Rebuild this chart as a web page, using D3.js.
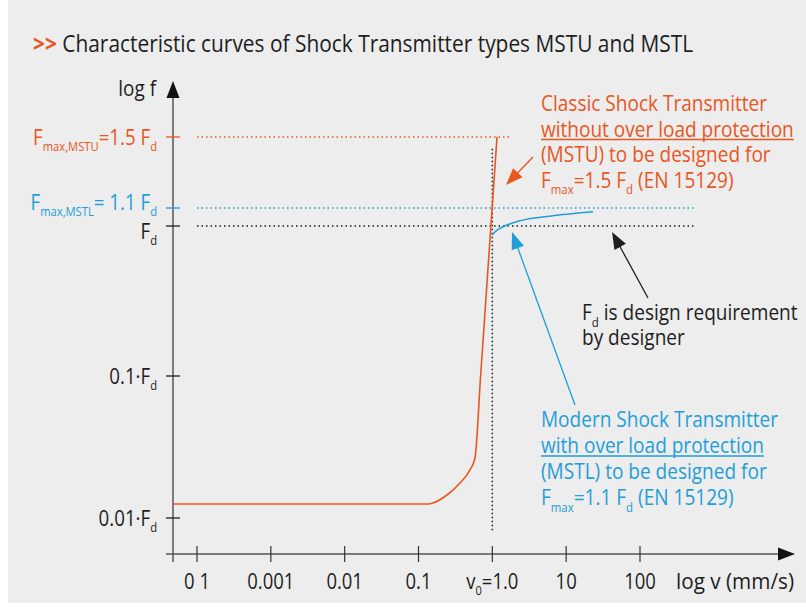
<!DOCTYPE html>
<html>
<head>
<meta charset="utf-8">
<script src="https://cdn.jsdelivr.net/npm/d3@7"></script>
<style>
  body { margin: 0; background: #fff; }
  svg { display: block; font-family: "Open Sans", sans-serif; }
</style>
</head>
<body>
<div id="chart"></div>
<script>
// ---- data ----
// x axis: log v (mm/s)
const xTicks = [1e-4, 1e-3, 1e-2, 1e-1, 1, 10, 100];
const xTickLabels = ['0 1', '0.001', '0.01', '0.1', 'v_{0}=1.0', '10', '100'];

// y axis: log f, in multiples of Fd (schematic, not to scale)
const yTicks = [0.01, 0.1, 1, 1.1, 1.5];
const yTickLabels = ['0.01·F_{d}', '0.1·F_{d}', 'F_{d}', 'F_{max,MSTL}= 1.1 F_{d}', 'F_{max,MSTU}=1.5 F_{d}'];
const yTickSeries = ['base', 'base', 'base', 'mstl', 'mstu'];

// MSTU - classic shock transmitter (no over load protection)
const mstuV = [4.73e-5, 0.1345, 0.157, 0.243, 0.365, 0.498, 0.582, 0.6915, 0.821, 0.9744, 1.157];
const mstuF = [0.01255, 0.01255, 0.01276, 0.01452, 0.01764, 0.0218, 0.02645, 0.0972, 0.3338, 1.0474, 1.5];

// MSTL - modern shock transmitter (with over load protection)
const mstlV = [0.99, 1.157, 1.395, 2.371, 6.63, 23.1];
const mstlF = [0.871, 0.9404, 0.989, 1.0285, 1.056, 1.0786];

// dotted reference levels
const refF = [1.5, 1.1, 1];
const refVEnd = [1.73, 556, 556];
const refSeries = ['mstu', 'mstl', 'base'];
const v0 = 1;
const v0Span = [0.0082, 1.43];

// annotation arrows [v, f] from -> to
const arrowFrom = [[3.56, 1.3746], [13.17, 0.0625], [128.4, 0.331]];
const arrowTo = [[1.531, 1.2163], [1.847, 0.912], [41.8, 0.912]];
const arrowSeries = ['mstu', 'mstl', 'base'];

const titleText = 'Characteristic curves of Shock Transmitter types MSTU and MSTL';
const mstuNote = ['Classic Shock Transmitter', 'without over load protection', '(MSTU) to be designed for', 'F_{max}=1.5 F_{d} (EN 15129)'];
const mstlNote = ['Modern Shock Transmitter', 'with over load protection', '(MSTL) to be designed for', 'F_{max}=1.1 F_{d} (EN 15129)'];
const fdNote = ['F_{d} is design requirement', 'by designer'];

// ---- layout ----
const W = 806, H = 608;
const originX = 173, originY = 554;
const colors = { mstu: '#e9561f', mstl: '#1f9ed9', base: '#1e1e1e' };
const K = 0.88; // narrow the glyphs a bit (reference uses a condensed face)

const svg = d3.select('#chart').append('svg')
  .attr('width', W)
  .attr('height', H);

svg.append('rect')
  .attr('x', 8).attr('y', 0)
  .attr('width', W - 8).attr('height', 603)
  .attr('fill', '#ecedec');

const x = d3.scaleLog()
  .domain([1e-4, 100])
  .range([197, 640]);

// piecewise log scale, the chart is drawn schematically
const y = d3.scaleLog()
  .domain(yTicks)
  .range([518, 376, 226, 208, 137]);

function rich(sel, str, size) {
  const parts = str.split(/(_\{[^}]*\})/).filter(s => s);
  let shift = 0;
  parts.forEach(p => {
    const sub = p.startsWith('_{');
    const target = sub ? size * 0.3 : 0;
    sel.append('tspan')
      .attr('dy', target - shift)
      .attr('font-size', sub ? size * 0.6 : size)
      .text(sub ? p.slice(2, -1) : p);
    shift = target;
  });
  return sel;
}

function condense(sel, k) {
  sel.each(function() {
    const w = this.getComputedTextLength();
    d3.select(this)
      .attr('textLength', w * (k || K))
      .attr('lengthAdjust', 'spacingAndGlyphs');
  });
  return sel;
}

function arrowHead(g, x1, y1, x2, y2, color, len, half) {
  const a = Math.atan2(y2 - y1, x2 - x1);
  const bx = x2 - len * Math.cos(a), by = y2 - len * Math.sin(a);
  const px = -Math.sin(a) * half, py = Math.cos(a) * half;
  g.append('polygon')
    .attr('points', [[x2, y2], [bx + px, by + py], [bx - px, by - py]].join(' '))
    .attr('fill', color);
}

// title
const title = svg.append('text')
  .attr('x', 33).attr('y', 52)
  .attr('font-size', 24)
  .attr('fill', '#1e1e1e');
title.append('tspan')
  .attr('fill', colors.mstu)
  .attr('font-weight', 'bold')
  .text('>>');
title.append('tspan').text(' ' + titleText);
condense(title, 0.87);

// reference lines
const ref = svg.append('g').attr('class', 'ref');
refF.forEach((f, i) => {
  ref.append('line')
    .attr('x1', x(1e-4)).attr('x2', x(refVEnd[i]))
    .attr('y1', y(f)).attr('y2', y(f))
    .attr('stroke', colors[refSeries[i]])
    .attr('stroke-width', 1.5)
    .attr('stroke-dasharray', '1.5,3');
});
ref.append('line')
  .attr('x1', x(v0)).attr('x2', x(v0))
  .attr('y1', y(v0Span[0])).attr('y2', y(v0Span[1]))
  .attr('stroke', colors.base)
  .attr('stroke-width', 1.5)
  .attr('stroke-dasharray', '1.5,2.5');

// axes
const axes = svg.append('g').attr('class', 'axes');
axes.append('line')
  .attr('x1', originX).attr('x2', originX)
  .attr('y1', 94).attr('y2', originY + 8)
  .attr('stroke', '#555').attr('stroke-width', 1.5);
arrowHead(axes, originX, 120, originX, 81, '#111', 17, 6.5);
axes.append('line')
  .attr('x1', originX - 7).attr('x2', 782)
  .attr('y1', originY).attr('y2', originY)
  .attr('stroke', '#555').attr('stroke-width', 1.5);
arrowHead(axes, 700, originY, 795, originY, '#111', 17, 6.5);

// y ticks + labels
const yLabelShift = { 1: 13, 1.1: 2 };
yTicks.forEach((f, i) => {
  const c = colors[yTickSeries[i]];
  axes.append('line')
    .attr('x1', originX - 7).attr('x2', originX + 7)
    .attr('y1', y(f)).attr('y2', y(f))
    .attr('stroke', c).attr('stroke-width', 1.3);
  const t = axes.append('text')
    .attr('x', 157)
    .attr('y', y(f) + (yLabelShift[f] !== undefined ? yLabelShift[f] : 8))
    .attr('text-anchor', 'end')
    .attr('fill', c);
  rich(t, yTickLabels[i], 21);
  condense(t, 0.89);
});
condense(axes.append('text')
  .attr('x', 156).attr('y', 96)
  .attr('text-anchor', 'end')
  .attr('font-size', 21)
  .attr('fill', '#1e1e1e')
  .text('log f'), 0.9);

// x ticks + labels
xTicks.forEach((v, i) => {
  axes.append('line')
    .attr('x1', x(v)).attr('x2', x(v))
    .attr('y1', originY - 8).attr('y2', originY + 8)
    .attr('stroke', '#333').attr('stroke-width', 1.2);
  const t = axes.append('text')
    .attr('x', x(v)).attr('y', 589)
    .attr('text-anchor', 'middle')
    .attr('fill', '#1e1e1e');
  rich(t, xTickLabels[i], 21);
  condense(t);
});
axes.append('text')
  .attr('x', 676).attr('y', 589)
  .attr('font-size', 21)
  .attr('fill', '#1e1e1e')
  .attr('textLength', 118)
  .attr('lengthAdjust', 'spacingAndGlyphs')
  .text('log v (mm/s)');

// curves
const line = d3.line()
  .x(d => x(d[0]))
  .y(d => y(d[1]))
  .curve(d3.curveMonotoneX);

svg.append('path')
  .datum(mstuV.map((v, i) => [v, mstuF[i]]))
  .attr('d', line)
  .attr('fill', 'none')
  .attr('stroke', colors.mstu)
  .attr('stroke-width', 1.6);

svg.append('path')
  .datum(mstlV.map((v, i) => [v, mstlF[i]]))
  .attr('d', line)
  .attr('fill', 'none')
  .attr('stroke', colors.mstl)
  .attr('stroke-width', 1.6);

// annotation arrows
const ann = svg.append('g').attr('class', 'annotations');
arrowFrom.forEach((p, i) => {
  const c = colors[arrowSeries[i]];
  const x1 = x(p[0]), y1 = y(p[1]);
  const x2 = x(arrowTo[i][0]), y2 = y(arrowTo[i][1]);
  const a = Math.atan2(y2 - y1, x2 - x1);
  ann.append('line')
    .attr('x1', x1).attr('y1', y1)
    .attr('x2', x2 - 10 * Math.cos(a)).attr('y2', y2 - 10 * Math.sin(a))
    .attr('stroke', c).attr('stroke-width', 1.3);
  arrowHead(ann, x1, y1, x2, y2, c, 17, 6.5);
});

// notes
function note(lines, x0, y0, lh, color, underlined) {
  lines.forEach((s, i) => {
    const t = ann.append('text')
      .attr('x', x0).attr('y', y0 + i * lh)
      .attr('fill', color);
    rich(t, s, 22);
    condense(t, 0.865);
    if (i === underlined) {
      const b = t.node().getBBox();
      ann.append('line')
        .attr('x1', b.x).attr('x2', b.x + b.width)
        .attr('y1', y0 + i * lh + 3).attr('y2', y0 + i * lh + 3)
        .attr('stroke', color).attr('stroke-width', 1.3);
    }
  });
}
note(mstuNote, 541, 111, 25.5, colors.mstu, 1);
note(mstlNote, 541, 427, 26, colors.mstl, 1);
note(fdNote, 582, 320, 24.5, colors.base, -1);
</script>
</body>
</html>
